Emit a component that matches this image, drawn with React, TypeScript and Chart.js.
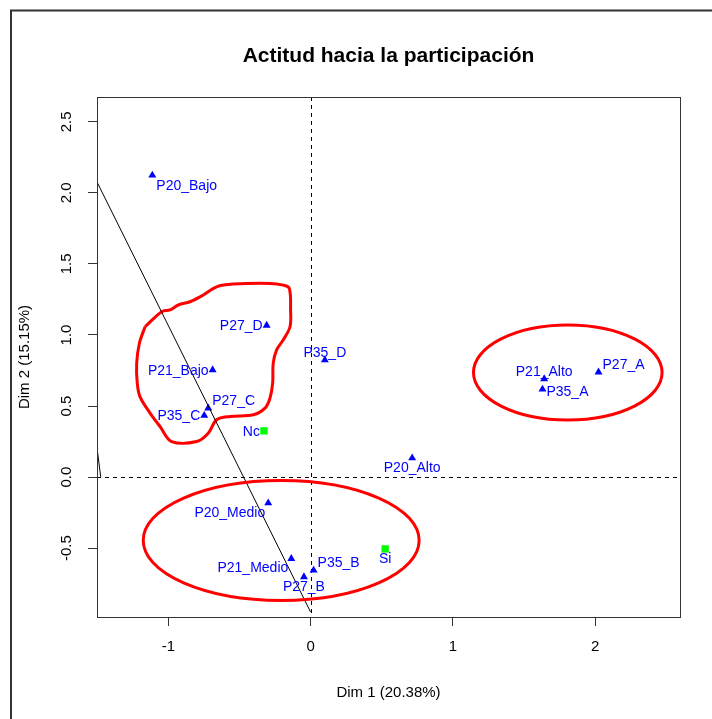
import React, { useEffect, useRef } from "react";
import { Chart, registerables } from "chart.js";

Chart.register(...registerables);

// ---- data ----
const titleText = "Actitud hacia la participación";
const xTitle = "Dim 1 (20.38%)";
const yTitle = "Dim 2 (15.15%)";

const xTicks = [-1, 0, 1, 2];
const yTicks = [-0.5, 0.0, 0.5, 1.0, 1.5, 2.0, 2.5];

const catLabels = [
  "P20_Bajo", "P27_D", "P35_D", "P21_Bajo", "P27_C", "P35_C", "P20_Alto",
  "P21_Alto", "P35_A", "P27_A", "P20_Medio", "P21_Medio", "P27_B", "P35_B",
];
const catX = [-1.113, -0.309, 0.1, -0.689, -0.72, -0.748, 0.714, 1.642, 1.63, 2.024, -0.298, -0.136, -0.047, 0.021];
const catY = [2.124, 1.067, 0.824, 0.754, 0.485, 0.433, 0.134, 0.691, 0.618, 0.738, -0.183, -0.574, -0.703, -0.656];
const catPlace = ["BR", "L", "T", "L", "TR", "L", "B", "T", "R", "TR", "BL", "BL", "B", "TR"];

const supLabels = ["Nc", "Si"];
const supX = [-0.328, 0.524];
const supY = [0.325, -0.506];
const supPlace = ["L", "B"];

// hand-drawn annotations (data units)
const mainLineX = [-1.502, 0.0];
const mainLineY = [2.077, -0.951];
const shortLineX = [-1.502, -1.476];
const shortLineY = [0.206, 0.002];

const blobX = [-1.164, -1.204, -1.223, -1.219, -1.2, -1.129, -1.059, -0.977, -0.801, -0.72, -0.661, -0.567, -0.403, -0.321, -0.286, -0.267, -0.263, -0.239, -0.193, -0.145, -0.141, -0.15, -0.193, -0.286, -0.544, -0.661, -0.755, -0.848, -0.93, -0.989, -1.047, -1.164];
const blobY = [1.058, 0.942, 0.801, 0.661, 0.566, 0.45, 0.356, 0.25, 0.25, 0.309, 0.403, 0.426, 0.438, 0.485, 0.555, 0.661, 0.801, 0.895, 0.965, 1.058, 1.176, 1.328, 1.351, 1.363, 1.358, 1.339, 1.281, 1.234, 1.211, 1.176, 1.164, 1.058];

const ellipseCx = [1.808, -0.207];
const ellipseCy = [0.736, -0.446];
const ellipseRx = [0.663, 0.97];
const ellipseRy = [0.334, 0.422];

const xMin = -1.502, xMax = 2.597, yMin = -0.985, yMax = 2.675;

const FONT = '"Liberation Sans", Arial, sans-serif';

const zip = (xs: number[], ys: number[]) => xs.map((x, i) => ({ x, y: ys[i] }));

const placeOffsets: Record<string, { dx: number; dy: number; align: CanvasTextAlign }> = {
  L: { dx: -4, dy: 1, align: "right" },
  R: { dx: 4, dy: 3, align: "left" },
  T: { dx: 0, dy: -7, align: "center" },
  B: { dx: 0, dy: 10, align: "center" },
  TR: { dx: 4, dy: -7.5, align: "left" },
  BR: { dx: 4, dy: 11, align: "left" },
  BL: { dx: -3, dy: 10, align: "right" },
};

const decorPlugin = {
  id: "decor",
  beforeDatasetsDraw(chart: any) {
    const { ctx, chartArea: a, scales } = chart;
    const px = scales.x.getPixelForValue(0);
    const py = scales.y.getPixelForValue(0);
    ctx.save();
    ctx.strokeStyle = "#000";
    ctx.lineWidth = 1;
    ctx.setLineDash([4, 4]);
    ctx.beginPath();
    ctx.moveTo(Math.round(px) + 0.5, a.top);
    ctx.lineTo(Math.round(px) + 0.5, a.bottom);
    ctx.moveTo(a.left, Math.round(py) + 0.5);
    ctx.lineTo(a.right, Math.round(py) + 0.5);
    ctx.stroke();
    ctx.restore();
  },
  afterDatasetsDraw(chart: any) {
    const { ctx, chartArea: a, scales } = chart;
    const sx = scales.x, sy = scales.y;
    ctx.save();
    // labels
    ctx.font = `14px ${FONT}`;
    ctx.fillStyle = "#0000ff";
    ctx.textBaseline = "middle";
    const drawLab = (labels: string[], xs: number[], ys: number[], pl: string[]) => {
      labels.forEach((t, i) => {
        const o = placeOffsets[pl[i]];
        ctx.textAlign = o.align;
        ctx.fillText(t, sx.getPixelForValue(xs[i]) + o.dx, sy.getPixelForValue(ys[i]) + o.dy);
      });
    };
    drawLab(catLabels, catX, catY, catPlace);
    drawLab(supLabels, supX, supY, supPlace);

    // ellipses
    ctx.beginPath();
    ctx.rect(a.left, a.top, a.right - a.left, a.bottom - a.top);
    ctx.clip();
    ctx.strokeStyle = "#ff0000";
    ctx.lineWidth = 3;
    ellipseCx.forEach((cx, i) => {
      const cxp = sx.getPixelForValue(cx);
      const cyp = sy.getPixelForValue(ellipseCy[i]);
      const rxp = Math.abs(sx.getPixelForValue(cx + ellipseRx[i]) - cxp);
      const ryp = Math.abs(sy.getPixelForValue(ellipseCy[i] + ellipseRy[i]) - cyp);
      ctx.beginPath();
      ctx.ellipse(cxp, cyp, rxp, ryp, 0, 0, Math.PI * 2);
      ctx.stroke();
    });
    ctx.restore();
  },
  afterDraw(chart: any) {
    const { ctx, chartArea: a, scales } = chart;
    ctx.save();
    // plot box
    ctx.strokeStyle = "#333";
    ctx.lineWidth = 1;
    ctx.strokeRect(Math.round(a.left) + 0.5, Math.round(a.top) + 0.5, Math.round(a.right - a.left), Math.round(a.bottom - a.top));
    // outer frame
    ctx.strokeStyle = "#333";
    ctx.lineWidth = 2;
    ctx.strokeRect(11, 10.5, 900, 900);
    // title
    ctx.fillStyle = "#000";
    ctx.textAlign = "center";
    ctx.textBaseline = "middle";
    ctx.font = `bold 21px ${FONT}`;
    const cx = (a.left + a.right) / 2;
    ctx.fillText(titleText, cx, 56);
    // x title
    ctx.font = `15px ${FONT}`;
    ctx.fillText(xTitle, cx, 693);
    // y tick labels
    yTicks.forEach((v) => {
      ctx.save();
      ctx.translate(67, scales.y.getPixelForValue(v));
      ctx.rotate(-Math.PI / 2);
      ctx.fillText(v.toFixed(1), 0, 0);
      ctx.restore();
    });
    // y title
    ctx.save();
    ctx.translate(25, (a.top + a.bottom) / 2);
    ctx.rotate(-Math.PI / 2);
    ctx.fillText(yTitle, 0, 0);
    ctx.restore();
    ctx.restore();
  },
};

export default function App() {
  const ref = useRef<HTMLCanvasElement | null>(null);
  useEffect(() => {
    if (!ref.current) return;
    const chart = new Chart(ref.current, {
      type: "scatter",
      data: {
        datasets: [
          {
            data: zip(mainLineX, mainLineY),
            showLine: true,
            borderColor: "#000",
            borderWidth: 1,
            pointRadius: 0,
          },
          {
            data: zip(shortLineX, shortLineY),
            showLine: true,
            borderColor: "#000",
            borderWidth: 1,
            pointRadius: 0,
          },
          {
            data: zip(blobX, blobY),
            showLine: true,
            borderColor: "#ff0000",
            borderWidth: 3,
            tension: 0.35,
            pointRadius: 0,
          },
          {
            data: zip(catX, catY),
            pointStyle: "triangle",
            pointRadius: 4.6,
            backgroundColor: "#0000ff",
            borderColor: "#0000ff",
            borderWidth: 0,
          },
          {
            data: zip(supX, supY),
            pointStyle: "rect",
            pointRadius: 5.2,
            backgroundColor: "#00ff00",
            borderColor: "#00ff00",
            borderWidth: 0,
          },
        ],
      },
      options: {
        animation: false,
        responsive: false,
        events: [],
        layout: { padding: { top: 97, right: 32, left: 0, bottom: 0 } },
        plugins: { legend: { display: false }, tooltip: { enabled: false }, title: { display: false } },
        scales: {
          x: {
            type: "linear",
            min: xMin,
            max: xMax,
            afterBuildTicks: (s: any) => { s.ticks = xTicks.map((v) => ({ value: v })); },
            afterFit: (s: any) => { s.height = 102; },
            grid: { drawOnChartArea: false, drawTicks: true, tickLength: 9, color: "#333" },
            border: { display: true, color: "#333", width: 1 },
            ticks: {
              padding: 12,
              color: "#000",
              font: { family: FONT, size: 15 },
              maxRotation: 0,
              callback: (v: any) => String(v),
            },
          },
          y: {
            type: "linear",
            min: yMin,
            max: yMax,
            afterBuildTicks: (s: any) => { s.ticks = yTicks.map((v) => ({ value: v })); },
            afterFit: (s: any) => { s.width = 97; },
            grid: { drawOnChartArea: false, drawTicks: true, tickLength: 9, color: "#333" },
            border: { display: true, color: "#333", width: 1 },
            ticks: { color: "rgba(0,0,0,0)", font: { family: FONT, size: 15 } },
          },
        },
      },
      plugins: [decorPlugin],
    } as any);
    return () => chart.destroy();
  }, []);
  return (
    <div style={{ position: "absolute", left: 0, top: 0, width: 712, height: 719, background: "#fff" }}>
      <canvas ref={ref} width={712} height={719} style={{ width: 712, height: 719, display: "block" }} />
    </div>
  );
}
